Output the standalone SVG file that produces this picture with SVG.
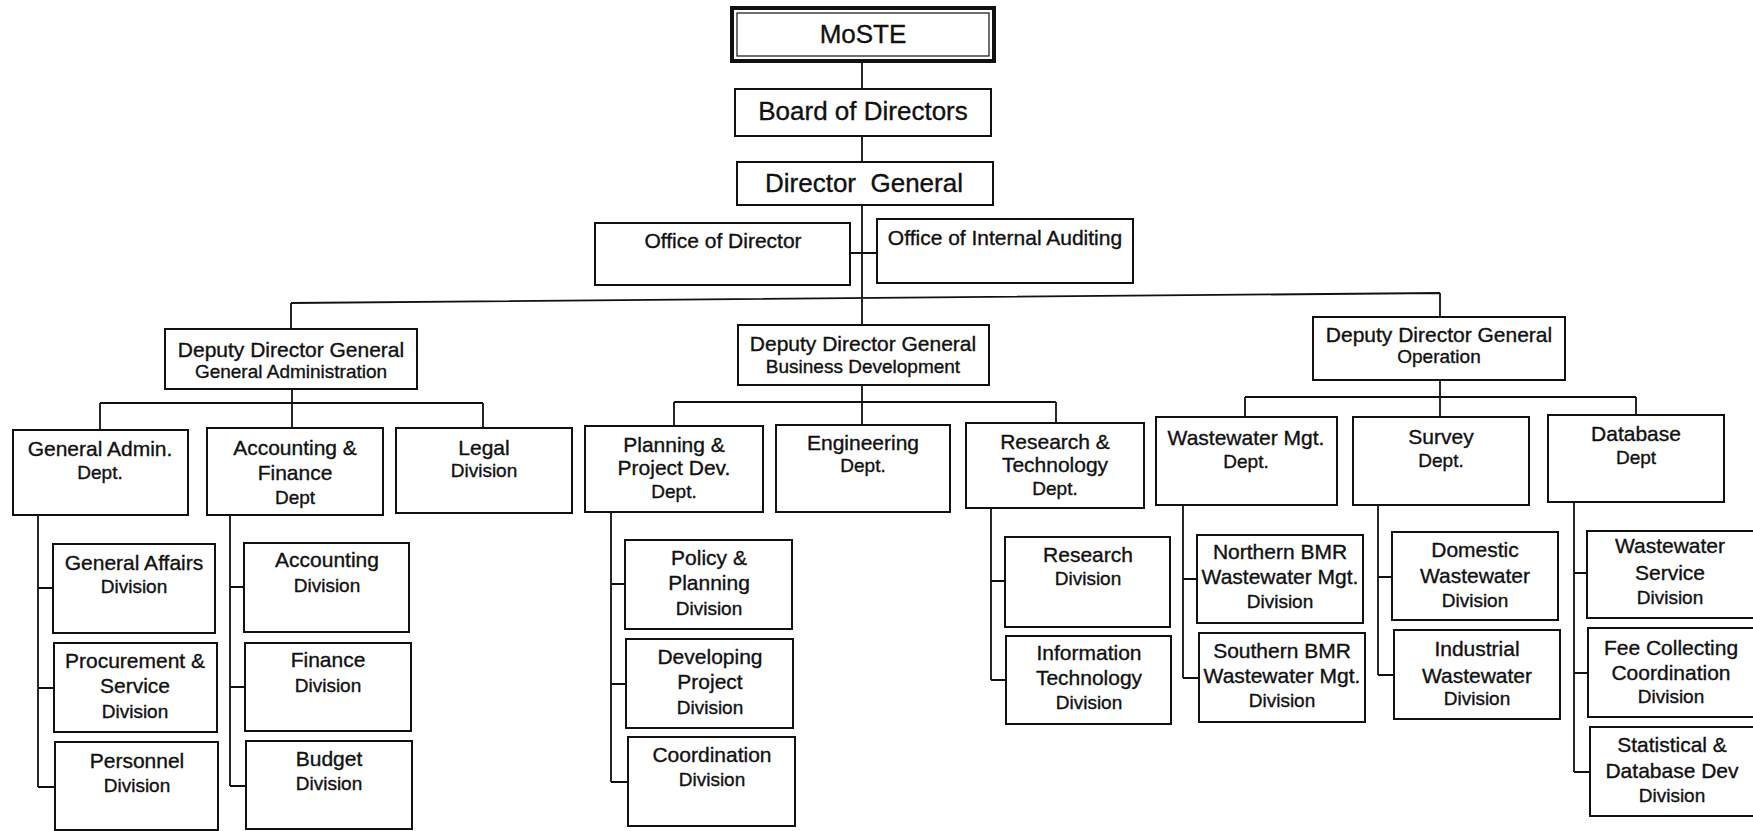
<svg xmlns="http://www.w3.org/2000/svg" width="1753" height="831" viewBox="0 0 1753 831">
<style>
.box{fill:#fff;stroke:#111;stroke-width:2}
.ln{stroke:#111;stroke-width:1.8;fill:none}
text{font-family:"Liberation Sans",Arial,sans-serif;fill:#111;text-anchor:middle;stroke:#111;stroke-width:0.35}
.big{font-size:26px}
.t1{font-size:21px}
.t2{font-size:19px}
</style>
<rect width="1753" height="831" fill="#fff"/>
<g id="connectors">
<path class="ln" d="M862 61V89M862 136V162M862 205V298M850 253H877"/>
<path class="ln" d="M291 303L1440 293M291 303V329M862 298V325M1440 293V317"/>
<path class="ln" d="M292 389V403M100 403H483M100 403V430M292 403V428M483 403V428"/>
<path class="ln" d="M862 385V402M674 402H1056M674 402V426M862 402V425M1056 402V423"/>
<path class="ln" d="M1440 380V397M1245 397H1636M1245 397V417M1440 397V417M1636 397V415"/>
<path class="ln" d="M38 515V787M38 588H53M38 688H54M38 787H55"/>
<path class="ln" d="M230 515V786M230 587H244M230 687H245M230 786H246"/>
<path class="ln" d="M611 512V782M611 584H625M611 684H626M611 782H628"/>
<path class="ln" d="M991 508V680M991 581H1005M991 680H1006"/>
<path class="ln" d="M1183 505V678M1183 579H1197M1183 678H1199"/>
<path class="ln" d="M1378 505V675M1378 577H1392M1378 675H1394"/>
<path class="ln" d="M1574 502V772M1574 573H1587M1574 673H1588M1574 772H1590"/>
</g>
<g id="moste">
<rect x="732" y="8" width="262" height="53" fill="#fff" stroke="#111" stroke-width="4"/>
<rect x="737" y="13" width="252" height="43" fill="none" stroke="#111" stroke-width="1.2"/>
<text class="big" x="863" y="43">MoSTE</text>
</g>
<g id="board">
<rect class="box" x="735" y="89" width="256" height="47"/>
<text class="big" x="863" y="120">Board of Directors</text>
</g>
<g id="dg">
<rect class="box" x="737" y="162" width="256" height="43"/>
<text class="big" x="864" y="192" xml:space="preserve">Director  General</text>
</g>
<g id="office-director">
<rect class="box" x="595" y="223" width="255" height="62"/>
<text class="t1" x="723" y="248">Office of Director</text>
</g>
<g id="office-auditing">
<rect class="box" x="877" y="219" width="256" height="64"/>
<text class="t1" x="1005" y="245">Office of Internal Auditing</text>
</g>
<g id="ddg-admin">
<rect class="box" x="165" y="329" width="252" height="60"/>
<text class="t1" x="291" y="357">Deputy Director General</text>
<text class="t2" x="291" y="378">General Administration</text>
</g>
<g id="ddg-business">
<rect class="box" x="738" y="325" width="251" height="60"/>
<text class="t1" x="863" y="351">Deputy Director General</text>
<text class="t2" x="863" y="373">Business Development</text>
</g>
<g id="ddg-operation">
<rect class="box" x="1313" y="317" width="252" height="63"/>
<text class="t1" x="1439" y="342">Deputy Director General</text>
<text class="t2" x="1439" y="363">Operation</text>
</g>
<g id="general-admin-dept">
<rect class="box" x="13" y="430" width="175" height="85"/>
<text class="t1" x="100" y="456">General Admin.</text>
<text class="t2" x="100" y="479">Dept.</text>
</g>
<g id="accounting-finance-dept">
<rect class="box" x="207" y="428" width="176" height="87"/>
<text class="t1" x="295" y="455">Accounting &amp;</text>
<text class="t1" x="295" y="480">Finance</text>
<text class="t2" x="295" y="504">Dept</text>
</g>
<g id="legal-division">
<rect class="box" x="396" y="428" width="176" height="85"/>
<text class="t1" x="484" y="455">Legal</text>
<text class="t2" x="484" y="477">Division</text>
</g>
<g id="planning-dept">
<rect class="box" x="585" y="426" width="178" height="86"/>
<text class="t1" x="674" y="452">Planning &amp;</text>
<text class="t1" x="674" y="475">Project Dev.</text>
<text class="t2" x="674" y="498">Dept.</text>
</g>
<g id="engineering-dept">
<rect class="box" x="776" y="425" width="174" height="87"/>
<text class="t1" x="863" y="450">Engineering</text>
<text class="t2" x="863" y="472">Dept.</text>
</g>
<g id="research-tech-dept">
<rect class="box" x="966" y="423" width="178" height="85"/>
<text class="t1" x="1055" y="449">Research &amp;</text>
<text class="t1" x="1055" y="472">Technology</text>
<text class="t2" x="1055" y="495">Dept.</text>
</g>
<g id="wastewater-dept">
<rect class="box" x="1156" y="417" width="181" height="88"/>
<text class="t1" x="1246" y="445">Wastewater Mgt.</text>
<text class="t2" x="1246" y="468">Dept.</text>
</g>
<g id="survey-dept">
<rect class="box" x="1353" y="417" width="176" height="88"/>
<text class="t1" x="1441" y="444">Survey</text>
<text class="t2" x="1441" y="467">Dept.</text>
</g>
<g id="database-dept">
<rect class="box" x="1548" y="415" width="176" height="87"/>
<text class="t1" x="1636" y="441">Database</text>
<text class="t2" x="1636" y="464">Dept</text>
</g>
<g id="general-affairs">
<rect class="box" x="53" y="544" width="162" height="89"/>
<text class="t1" x="134" y="570">General Affairs</text>
<text class="t2" x="134" y="593">Division</text>
</g>
<g id="procurement">
<rect class="box" x="54" y="643" width="163" height="89"/>
<text class="t1" x="135" y="668">Procurement &amp;</text>
<text class="t1" x="135" y="693">Service</text>
<text class="t2" x="135" y="718">Division</text>
</g>
<g id="personnel">
<rect class="box" x="55" y="742" width="163" height="88"/>
<text class="t1" x="137" y="768">Personnel</text>
<text class="t2" x="137" y="792">Division</text>
</g>
<g id="accounting-division">
<rect class="box" x="244" y="543" width="165" height="89"/>
<text class="t1" x="327" y="567">Accounting</text>
<text class="t2" x="327" y="592">Division</text>
</g>
<g id="finance-division">
<rect class="box" x="245" y="643" width="166" height="88"/>
<text class="t1" x="328" y="667">Finance</text>
<text class="t2" x="328" y="692">Division</text>
</g>
<g id="budget-division">
<rect class="box" x="246" y="741" width="166" height="88"/>
<text class="t1" x="329" y="766">Budget</text>
<text class="t2" x="329" y="790">Division</text>
</g>
<g id="policy-planning">
<rect class="box" x="625" y="540" width="167" height="89"/>
<text class="t1" x="709" y="565">Policy &amp;</text>
<text class="t1" x="709" y="590">Planning</text>
<text class="t2" x="709" y="615">Division</text>
</g>
<g id="developing-project">
<rect class="box" x="626" y="639" width="167" height="89"/>
<text class="t1" x="710" y="664">Developing</text>
<text class="t1" x="710" y="689">Project</text>
<text class="t2" x="710" y="714">Division</text>
</g>
<g id="coordination">
<rect class="box" x="628" y="737" width="167" height="89"/>
<text class="t1" x="712" y="762">Coordination</text>
<text class="t2" x="712" y="786">Division</text>
</g>
<g id="research-division">
<rect class="box" x="1005" y="537" width="165" height="90"/>
<text class="t1" x="1088" y="562">Research</text>
<text class="t2" x="1088" y="585">Division</text>
</g>
<g id="it-division">
<rect class="box" x="1006" y="636" width="165" height="88"/>
<text class="t1" x="1089" y="660">Information</text>
<text class="t1" x="1089" y="685">Technology</text>
<text class="t2" x="1089" y="709">Division</text>
</g>
<g id="northern-bmr">
<rect class="box" x="1197" y="535" width="166" height="88"/>
<text class="t1" x="1280" y="559">Northern BMR</text>
<text class="t1" x="1280" y="584">Wastewater Mgt.</text>
<text class="t2" x="1280" y="608">Division</text>
</g>
<g id="southern-bmr">
<rect class="box" x="1199" y="633" width="166" height="89"/>
<text class="t1" x="1282" y="658">Southern BMR</text>
<text class="t1" x="1282" y="683">Wastewater Mgt.</text>
<text class="t2" x="1282" y="707">Division</text>
</g>
<g id="domestic-wastewater">
<rect class="box" x="1392" y="532" width="166" height="88"/>
<text class="t1" x="1475" y="557">Domestic</text>
<text class="t1" x="1475" y="583">Wastewater</text>
<text class="t2" x="1475" y="607">Division</text>
</g>
<g id="industrial-wastewater">
<rect class="box" x="1394" y="630" width="166" height="89"/>
<text class="t1" x="1477" y="656">Industrial</text>
<text class="t1" x="1477" y="683">Wastewater</text>
<text class="t2" x="1477" y="705">Division</text>
</g>
<g id="wastewater-service">
<rect class="box" x="1587" y="531" width="170" height="87"/>
<text class="t1" x="1670" y="553">Wastewater</text>
<text class="t1" x="1670" y="580">Service</text>
<text class="t2" x="1670" y="604">Division</text>
</g>
<g id="fee-collecting">
<rect class="box" x="1588" y="628" width="170" height="89"/>
<text class="t1" x="1671" y="655">Fee Collecting</text>
<text class="t1" x="1671" y="680">Coordination</text>
<text class="t2" x="1671" y="703">Division</text>
</g>
<g id="statistical-database">
<rect class="box" x="1590" y="727" width="170" height="89"/>
<text class="t1" x="1672" y="752">Statistical &amp;</text>
<text class="t1" x="1672" y="778">Database Dev</text>
<text class="t2" x="1672" y="802">Division</text>
</g>
</svg>
